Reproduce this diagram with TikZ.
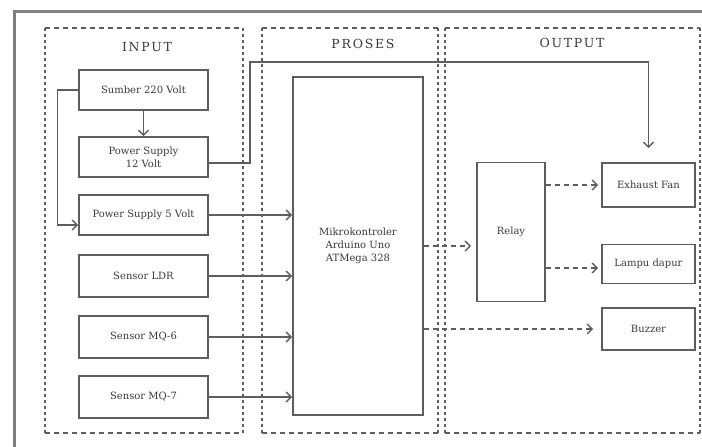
\documentclass[tikz,border=0pt]{standalone}
\usepackage{fontspec}
\setmainfont{DejaVu Serif}
\usetikzlibrary{calc,arrows.meta,positioning}
\definecolor{bd-line}{HTML}{5E5E5E}
\definecolor{bd-text}{HTML}{3A3A3A}
\definecolor{bd-frame}{HTML}{808080}
\tikzset{
  blok/.style={draw=bd-line, line width=1.6pt, minimum width=129pt, minimum height=40pt,
    align=center, text=bd-text, font=\fontsize{10}{13}\selectfont},
  judul/.style={text=bd-text, font=\fontsize{12.5}{14}\selectfont\addfontfeatures{LetterSpace=14}},
  panah/.style={draw=bd-line, line width=1.4pt, -{Straight Barb[length=5pt,width=10pt]}},
  putus/.style={panah, dash pattern=on 5pt off 4pt},
  garisH/.style={draw=bd-line, line width=2.8pt, dash pattern=on 5pt off 4pt},
  garisV/.style={draw=bd-line, line width=2.8pt, dash pattern=on 2.5pt off 3.5pt},
}

\begin{document}
\begin{tikzpicture}[x=1pt,y=-1pt]
\useasboundingbox (0,0) rectangle (702,447);
% frame and groups
\draw[bd-frame, line width=3pt] (14,447) -- (14,11) -- (702,11);
\foreach \xa/\xb in {45/243, 262/438, 445/700} {
  \draw[garisH] (\xa,28) -- (\xb,28);
  \draw[garisH] (\xa,433) -- (\xb,433);
  \draw[garisV] (\xa,28) -- (\xa,433);
  \draw[garisV] (\xb,28) -- (\xb,433);
}
\node[judul] (tinput) at (147,47) {INPUT};
\node[judul] (tproses) at (363,44) {PROSES};
\node[judul] (toutput) at (572,43) {OUTPUT};
% input blocks
\node[blok] (sumber) at (143.5,90) {Sumber 220 Volt};
\node[blok] (ps12) at (143.5,157) {Power Supply\\12 Volt};
\node[blok] (ps5) at (143.5,215) {Power Supply 5 Volt};
\node[blok, minimum height=42pt] (ldr) at (143.5,276) {Sensor LDR};
\node[blok, minimum height=42pt] (mq6) at (143.5,337) {Sensor MQ-6};
\node[blok, minimum height=42pt] (mq7) at (143.5,397) {Sensor MQ-7};
% proses
\node[blok, minimum width=130pt, minimum height=338pt] (mikro) at (358,246) {Mikrokontroler\\Arduino Uno\\ATMega 328};
% output blocks
\node[blok, minimum width=68pt, minimum height=139pt] (relay) at (511,232) {Relay};
\node[blok, minimum width=93pt, minimum height=44pt] (fan) at (648.5,185) {Exhaust Fan};
\node[blok, minimum width=93pt, minimum height=39pt] (lampu) at (648.5,264) {Lampu dapur};
\node[blok, minimum width=93pt, minimum height=42pt] (buzzer) at (648.5,329) {Buzzer};
% power lines
\coordinate (belok) at (250,62);
\draw[panah] (sumber.west) -- ++(-21,0) |- ([yshift=-10pt]ps5.west);
\draw[panah] (sumber) -- (ps12);
\draw[panah, shorten >=14pt] ([yshift=-6pt]ps12.east) -| (belok) -| (fan.north);
% signal lines
\foreach \n in {ps5, ldr, mq6, mq7}
  \draw[panah] (\n.east) -- (\n.east -| mikro.west);
\draw[putus, shorten >=5pt] (mikro.east) -- (mikro.east -| relay.west);
\draw[putus, shorten >=8pt] (mikro.east |- buzzer) -- (buzzer.west);
\draw[putus, shorten >=3pt] (relay.east |- fan) -- (fan.west);
\draw[putus, shorten >=3pt] ([yshift=-4pt]relay.east |- lampu) -- ([yshift=-4pt]lampu.west);
\end{tikzpicture}
\end{document}
